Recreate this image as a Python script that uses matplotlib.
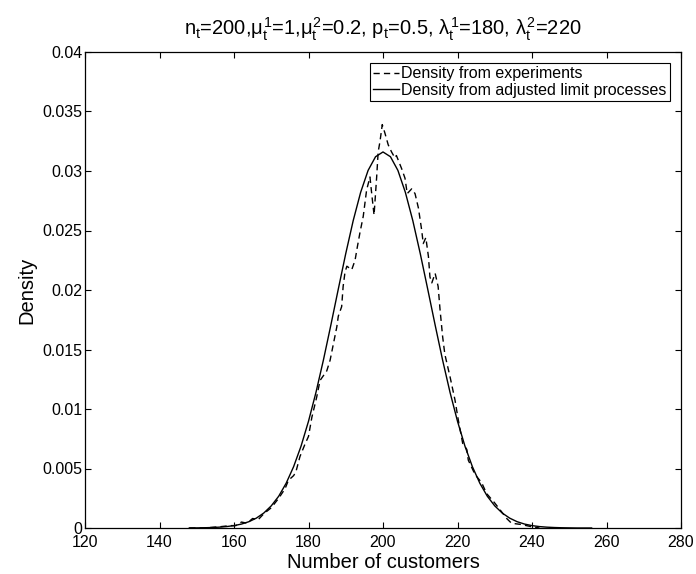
import matplotlib
matplotlib.use("Agg")
import matplotlib.pyplot as plt

plt.rcParams['font.family'] = ['Liberation Sans', 'DejaVu Sans']
plt.rcParams['mathtext.fontset'] = 'custom'
plt.rcParams['mathtext.rm'] = 'Liberation Sans'
plt.rcParams['mathtext.it'] = 'Liberation Sans'
plt.rcParams['mathtext.bf'] = 'Liberation Sans:bold'

# Density from experiments (dashed)
exp_x = [148, 152, 156, 159, 160.5, 162, 163.5, 165, 166.5, 168,
         170, 172, 173.7, 174.6, 176, 176.6, 177.7, 179, 180, 180.9,
         182.2, 183.1, 184, 184.9, 185.8, 186.7, 187.6, 188, 188.9, 189.3,
         189.8, 190.3, 191.6, 192.5, 193.1, 193.8, 194.7, 195.6, 196.5, 197.0,
         197.6, 198.3, 198.7, 199.2, 199.8, 200.5, 201.4, 202.3, 203.2, 203.6,
         205, 205.9, 206.5, 207.7, 208.6, 209.5, 210.4, 210.8, 211.5, 212.2,
         212.6, 213.1, 214, 214.8, 215.3, 216, 216.6, 218, 219.3, 220.2,
         221.4, 222.5, 222.9, 224.7, 226.5, 227.8, 230, 231.5, 233.2, 234.5,
         237, 240, 242]
exp_y = [0.0000, 0.0000, 0.0001, 0.0002, 0.0002, 0.0005, 0.0004, 0.0008, 0.0007, 0.0012,
         0.0017, 0.0025, 0.0033, 0.0040, 0.0044, 0.0047, 0.0060, 0.0070, 0.0077, 0.0093,
         0.0110, 0.0124, 0.0128, 0.0132, 0.0141, 0.0155, 0.0169, 0.0178, 0.0186, 0.0203,
         0.0215, 0.0220, 0.0217, 0.0225, 0.0236, 0.0248, 0.0262, 0.0284, 0.0295, 0.0280,
         0.0263, 0.0295, 0.0316, 0.0325, 0.0339, 0.0332, 0.0322, 0.0316, 0.0311, 0.0313,
         0.0302, 0.0294, 0.0281, 0.0285, 0.0281, 0.0269, 0.0250, 0.0239, 0.0244, 0.0228,
         0.0211, 0.0206, 0.0214, 0.0203, 0.0184, 0.0161, 0.0146, 0.0127, 0.0108, 0.0091,
         0.0071, 0.0066, 0.0057, 0.0045, 0.0038, 0.0029, 0.0021, 0.0015, 0.0008, 0.0004,
         0.0003, 0.0001, 0.0000]

# Density from adjusted limit processes (solid)
lim_x = [148, 150, 152, 154, 156, 158, 160, 162, 164, 166, 168, 170, 172, 174,
         176, 178, 180, 182, 184, 186, 188, 190, 192, 194, 196, 198, 200,
         202, 204, 206, 208, 210, 212, 214, 216, 218, 220, 222, 224, 226,
         228, 230, 232, 234, 236, 238, 240, 242, 244, 246, 248, 250, 252, 254, 256]
lim_y = [0.00000, 0.00001, 0.00002, 0.00004, 0.00007, 0.00012, 0.00020, 0.00033,
         0.00053, 0.00083, 0.00126, 0.00186, 0.00267, 0.00376, 0.00515, 0.00688,
         0.00897, 0.01139, 0.01411, 0.01705, 0.02008, 0.02306, 0.02583, 0.02821,
         0.03005, 0.03120, 0.03160, 0.03120, 0.03005, 0.02821, 0.02583, 0.02306,
         0.02008, 0.01705, 0.01411, 0.01139, 0.00897, 0.00688, 0.00515, 0.00376,
         0.00267, 0.00186, 0.00126, 0.00083, 0.00053, 0.00033, 0.00020, 0.00012,
         0.00007, 0.00004, 0.00002, 0.00001, 0.00000, 0.00000, 0.00000]

x_ticks = [120, 140, 160, 180, 200, 220, 240, 260, 280]
y_ticks = [0, 0.005, 0.01, 0.015, 0.02, 0.025, 0.03, 0.035, 0.04]
y_tick_labels = ['0', '0.005', '0.01', '0.015', '0.02', '0.025', '0.03', '0.035', '0.04']

fig = plt.figure(figsize=(6.96, 5.74), dpi=100)
ax = fig.add_axes([85/696, 46/574, 596/696, 476/574])

ax.plot(exp_x, exp_y, color='black', lw=1.0, linestyle=(0, (4.5, 3)),
        label='Density from experiments')
ax.plot(lim_x, lim_y, color='black', lw=1.0,
        label='Density from adjusted limit processes')

ax.set_xlim(120, 280)
ax.set_ylim(0, 0.04)
ax.set_xticks(x_ticks)
ax.set_yticks(y_ticks)
ax.set_yticklabels(y_tick_labels)
ax.tick_params(direction='in', top=True, right=True, length=4, width=0.8,
               labelsize=11.5, colors='black')
ax.tick_params(axis='x', pad=5)
ax.tick_params(axis='y', pad=2)
for s in ax.spines.values():
    s.set_linewidth(0.9)

ax.set_xlabel('Number of customers', fontsize=14.5, labelpad=2)
ax.set_ylabel('Density', fontsize=14.5, labelpad=4)
ax.set_title(r'n$_\mathregular{t}$=200,$\mu_\mathregular{t}^\mathregular{1}$=1,'
             r'$\mu_\mathregular{t}^\mathregular{2}$=0.2, p$_\mathregular{t}$=0.5, '
             r'$\lambda_\mathregular{t}^\mathregular{1}$=180, $\lambda_\mathregular{t}^\mathregular{2}$=220',
             fontsize=14.5, pad=12)

leg = ax.legend(loc='upper right', fontsize=11.5, handlelength=1.6, handletextpad=0.15,
                borderpad=0.2, labelspacing=0.1, borderaxespad=0.7,
                fancybox=False, framealpha=1, edgecolor='black')
leg.get_frame().set_linewidth(0.8)

fig.savefig('out.png', dpi=100)
